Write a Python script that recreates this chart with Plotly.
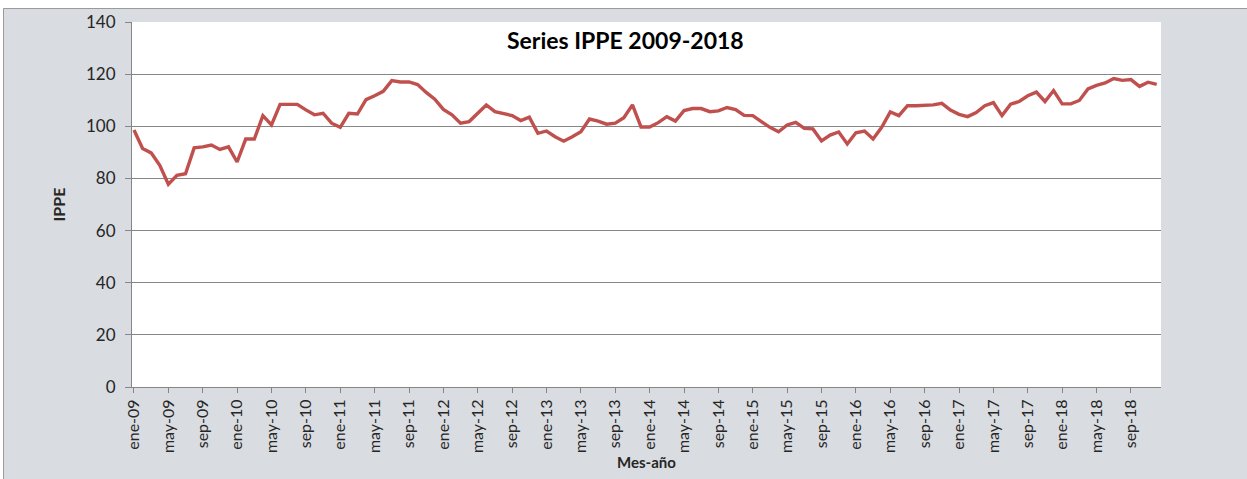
import plotly.graph_objects as go

month_names = ["ene", "feb", "mar", "abr", "may", "jun", "jul", "ago", "sep", "oct", "nov", "dic"]
years = ["09", "10", "11", "12", "13", "14", "15", "16", "17", "18"]
months = [f"{m}-{y}" for y in years for m in month_names]

ippe_2009 = [98.6, 91.5, 89.8, 85.0, 77.8, 81.2, 81.8, 91.7, 92.1, 92.8, 91.1, 92.1]
ippe_2010 = [86.3, 95.1, 95.1, 104.1, 100.5, 108.4, 108.4, 108.4, 106.3, 104.4, 105.0, 101.2]
ippe_2011 = [99.6, 105.0, 104.7, 110.2, 111.7, 113.4, 117.5, 117.0, 117.0, 116.0, 113.0, 110.4]
ippe_2012 = [106.5, 104.4, 101.2, 101.8, 105.0, 108.2, 105.6, 104.7, 104.1, 102.2, 103.5, 97.3]
ippe_2013 = [98.2, 96.0, 94.3, 96.0, 97.9, 102.8, 102.0, 100.8, 101.2, 103.3, 108.2, 99.7]
ippe_2014 = [99.7, 101.4, 103.7, 102.0, 106.0, 106.8, 106.8, 105.6, 105.9, 107.2, 106.4, 104.2]
ippe_2015 = [104.1, 101.8, 99.6, 97.9, 100.5, 101.5, 99.2, 99.0, 94.4, 96.6, 97.8, 93.2]
ippe_2016 = [97.5, 98.2, 95.1, 99.6, 105.5, 104.1, 107.9, 107.9, 107.9, 108.2, 108.8, 106.2]
ippe_2017 = [104.6, 103.7, 105.3, 107.9, 109.1, 104.1, 108.5, 109.5, 111.7, 113.1, 109.5, 113.7]
ippe_2018 = [108.6, 108.6, 109.9, 114.3, 115.7, 116.6, 118.3, 117.6, 117.9, 115.3, 116.9, 116.1]

ippe = (ippe_2009 + ippe_2010 + ippe_2011 + ippe_2012 + ippe_2013 +
        ippe_2014 + ippe_2015 + ippe_2016 + ippe_2017 + ippe_2018)

tick_labels = months[::4]
y_ticks = [0, 20, 40, 60, 80, 100, 120, 140]

W, H = 1247, 479
ml, mr, mt, mb = 132, 86, 22, 92
pw, ph = W - ml - mr, H - mt - mb

fig = go.Figure()
fig.add_trace(go.Scatter(
    x=months, y=ippe, mode="lines",
    line=dict(color="#C0504D", width=3.4),
    hoverinfo="x+y", showlegend=False,
))

font_family = "Lato, 'Open Sans', sans-serif"
fig.update_layout(
    width=W, height=H,
    margin=dict(l=ml, r=mr, t=mt, b=mb, pad=0, autoexpand=False),
    paper_bgcolor="#D9DCE0",
    plot_bgcolor="#FFFFFF",
    font=dict(family=font_family, size=15, color="#262626"),
    xaxis=dict(
        type="category",
        range=[-0.23, 119.5],
        automargin=False,
        tickmode="array",
        tickvals=tick_labels,
        ticktext=tick_labels,
        tickangle=-90,
        ticks="outside", ticklen=5, tickcolor="#868686", tickwidth=1,
        showline=True, linecolor="#868686", linewidth=1,
        showgrid=False, zeroline=False,
        tickfont=dict(size=16, color="#262626"),
        title=dict(text="<b>Mes-año</b>", font=dict(size=15, color="#262626"), standoff=0),
    ),
    yaxis=dict(
        range=[0, 140],
        automargin=False,
        tickmode="array",
        tickvals=y_ticks,
        ticks="outside", ticklen=6, tickcolor="#868686", tickwidth=1,
        showline=True, linecolor="#868686", linewidth=1,
        showgrid=True, gridcolor="#868686", gridwidth=1,
        zeroline=False,
        tickfont=dict(size=17, color="#262626"),
        ticklabelstandoff=6,
        title=dict(text="<b>IPPE</b>", font=dict(size=16, color="#262626"), standoff=16),
    ),
    annotations=[dict(
        text="<b>Series IPPE 2009-2018</b>",
        xref="paper", yref="paper", x=(625 - ml) / pw, y=1 - (40 - mt) / ph,
        showarrow=False, font=dict(size=23, color="#000000"),
        xanchor="center", yanchor="middle",
    )],
    shapes=[
        # white strips outside the chart frame (top and left)
        dict(type="rect", xref="paper", yref="paper", layer="below",
             x0=-ml / pw, x1=(W - ml) / pw, y0=1 + (mt - 8) / ph, y1=1 + mt / ph + 0.1,
             fillcolor="#FFFFFF", line=dict(width=0)),
        dict(type="rect", xref="paper", yref="paper", layer="below",
             x0=-ml / pw - 0.1, x1=(-ml + 3) / pw, y0=-mb / ph - 0.1, y1=1 + mt / ph,
             fillcolor="#FFFFFF", line=dict(width=0)),
        dict(type="line", xref="paper", yref="paper", layer="below",
             x0=(-ml + 3.5) / pw, x1=(W - ml) / pw, y0=1 + (mt - 8.5) / ph, y1=1 + (mt - 8.5) / ph,
             line=dict(color="#9A9A9A", width=1)),
        dict(type="line", xref="paper", yref="paper", layer="below",
             x0=(-ml + 3.5) / pw, x1=(-ml + 3.5) / pw, y0=-mb / ph, y1=1 + (mt - 8.5) / ph,
             line=dict(color="#9A9A9A", width=1)),
    ],
)

fig.write_html(
    "out.html",
    config={"displayModeBar": False},
    post_script="document.body.style.margin='0';document.body.style.overflow='hidden';",
)
